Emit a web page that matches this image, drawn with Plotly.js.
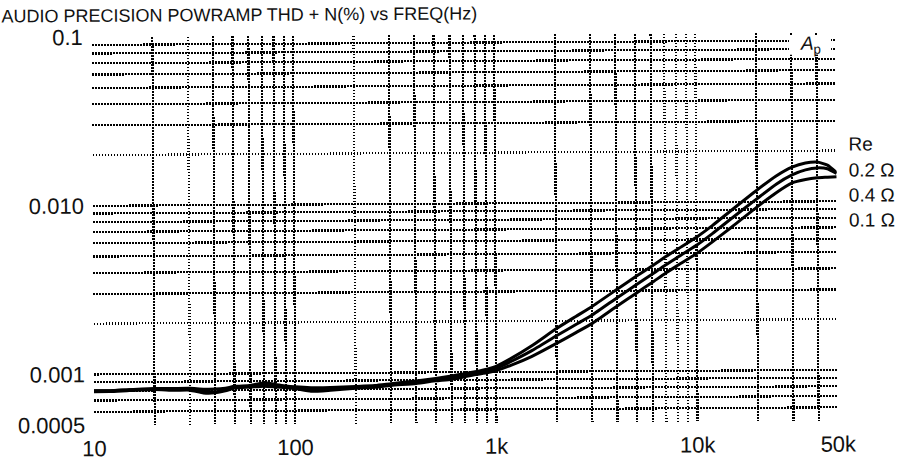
<!DOCTYPE html>
<html>
<head>
<meta charset="utf-8">
<script src="https://cdn.plot.ly/plotly-3.0.1.min.js"></script>
<style>
  html, body { margin: 0; padding: 0; background: #fff; overflow: hidden; }
  #chart { width: 904px; height: 461px; transform: rotate(-0.35deg); transform-origin: 452px 230px; }
</style>
</head>
<body>
<div id="chart"></div>
<script>
// ---- data ----
const freq = [10, 12, 15, 20, 25, 30, 35, 40, 45, 50, 60, 70, 80, 90, 100, 120, 150, 200, 250, 300, 400, 500, 600, 700, 800, 900, 1000,
  1200, 1500, 2000, 2500, 3000, 4000, 5000, 6000, 7000, 8000, 10000, 12000, 15000, 20000, 25000, 30000, 35000, 40000, 45000, 50000];

const thd_02 = [0.00080, 0.00080, 0.00081, 0.00082, 0.00082, 0.00082, 0.00081, 0.00081, 0.00082, 0.00084, 0.00085, 0.00088, 0.00086, 0.00084, 0.00083, 0.00082, 0.00082, 0.00083, 0.00084, 0.00086, 0.00089, 0.00092, 0.00095, 0.00098, 0.00101, 0.00104, 0.00108,
  0.00121, 0.00142, 0.00180, 0.00212, 0.00242, 0.00305, 0.00365, 0.00420, 0.00475, 0.00525, 0.00620, 0.00725, 0.00895, 0.01170, 0.01420, 0.01600, 0.01690, 0.01710, 0.01640, 0.01480];

const thd_04 = [0.00080, 0.00080, 0.00081, 0.00081, 0.00081, 0.00081, 0.00079, 0.00078, 0.00080, 0.00083, 0.00084, 0.00085, 0.00084, 0.00083, 0.00082, 0.00079, 0.00080, 0.00082, 0.00083, 0.00085, 0.00088, 0.00090, 0.00093, 0.00096, 0.00099, 0.00102, 0.00105,
  0.00116, 0.00133, 0.00163, 0.00190, 0.00215, 0.00272, 0.00325, 0.00375, 0.00425, 0.00470, 0.00555, 0.00650, 0.00800, 0.01040, 0.01270, 0.01440, 0.01540, 0.01580, 0.01560, 0.01460];

const thd_01 = [0.00079, 0.00079, 0.00080, 0.00081, 0.00080, 0.00080, 0.00077, 0.00077, 0.00079, 0.00082, 0.00083, 0.00084, 0.00083, 0.00082, 0.00081, 0.00078, 0.00079, 0.00081, 0.00082, 0.00084, 0.00086, 0.00089, 0.00091, 0.00094, 0.00097, 0.00099, 0.00102,
  0.00110, 0.00123, 0.00147, 0.00170, 0.00192, 0.00243, 0.00290, 0.00335, 0.00380, 0.00420, 0.00495, 0.00580, 0.00710, 0.00930, 0.01130, 0.01290, 0.01350, 0.01380, 0.01390, 0.01400];

const seriesNames = ['0.2 Ω', '0.4 Ω', '0.1 Ω'];

const xTickVals = [10, 20, 30, 40, 50, 60, 70, 80, 90, 100, 200, 300, 400, 500, 600, 700, 800, 900, 1000,
  2000, 3000, 4000, 5000, 6000, 7000, 8000, 9000, 10000, 20000, 30000, 40000, 50000];
const xTickText = ['10', '', '', '', '', '', '', '', '', '100', '', '', '', '', '', '', '', '', '1k',
  '', '', '', '', '', '', '', '', '10k', '', '', '', '50k'];

const yTickVals = [0.0005, 0.0006, 0.0007, 0.0008, 0.0009, 0.001, 0.002, 0.003, 0.004, 0.005, 0.006, 0.007, 0.008, 0.009, 0.01,
  0.02, 0.03, 0.04, 0.05, 0.06, 0.07, 0.08, 0.09, 0.1];
const yTickText = ['0.0005', '', '', '', '', '0.001', '', '', '', '', '', '', '', '', '0.010',
  '', '', '', '', '', '', '', '', '0.1'];

const titleText = 'AUDIO PRECISION POWRAMP THD + N(%) vs FREQ(Hz)';
const legendHeader = 'Re';

// ---- chart ----
const FONT = '"Liberation Sans", Arial, Helvetica, sans-serif';
const INK = '#000000';

const lineStyle = { color: INK, width: 3, shape: 'spline', smoothing: 0.5 };
const traces = [thd_02, thd_04, thd_01].map((vals, i) => ({
  type: 'scatter', mode: 'lines', name: seriesNames[i],
  x: freq, y: vals, line: lineStyle, hoverinfo: 'x+y+name'
}));

const gridStyle = {
  showgrid: true, gridcolor: INK, gridwidth: 2.2, griddash: '1.8px,1.2px',
  showline: false, zeroline: false, ticks: '', tickmode: 'array',
  tickfont: { family: FONT, size: 22, color: '#111' }
};

const layout = {
  width: 904, height: 461,
  margin: { l: 93, r: 67, t: 35, b: 38 },
  paper_bgcolor: '#ffffff', plot_bgcolor: '#ffffff',
  showlegend: false,
  font: { family: FONT, color: '#111' },
  title: {
    text: titleText, font: { family: FONT, size: 18, color: '#111' },
    xref: 'container', yref: 'container', x: 0.003, xanchor: 'left', y: 0.971, yanchor: 'middle'
  },
  xaxis: Object.assign({}, gridStyle, {
    type: 'log', range: [Math.log10(10), Math.log10(50000)],
    tickvals: xTickVals, ticktext: xTickText, ticklabelstandoff: 8
  }),
  yaxis: Object.assign({}, gridStyle, {
    type: 'log', range: [Math.log10(0.0005), Math.log10(0.1)],
    tickvals: yTickVals, ticktext: yTickText, ticklabelstandoff: 8
  }),
  shapes: [
    { type: 'rect', xref: 'paper', yref: 'paper', x0: 0.937, x1: 0.9935, y0: 0.944, y1: 0.994,
      fillcolor: '#ffffff', line: { width: 0 }, layer: 'above' }
  ],
  annotations: [
    { xref: 'paper', yref: 'paper', x: 0.966, y: 0.969, xanchor: 'center', yanchor: 'middle',
      text: '<i>A</i><sub>p</sub>', showarrow: false, font: { family: FONT, size: 19, color: '#111' } },
    { xref: 'paper', yref: 'paper', x: 1.0134, y: 0.7126, xanchor: 'left', yanchor: 'middle',
      text: legendHeader, showarrow: false, font: { family: FONT, size: 19, color: '#111' } },
    { xref: 'paper', yref: 'paper', x: 1.0134, y: 0.6456, xanchor: 'left', yanchor: 'middle',
      text: seriesNames[0], showarrow: false, font: { family: FONT, size: 19, color: '#111' } },
    { xref: 'paper', yref: 'paper', x: 1.0134, y: 0.5799, xanchor: 'left', yanchor: 'middle',
      text: seriesNames[1], showarrow: false, font: { family: FONT, size: 19, color: '#111' } },
    { xref: 'paper', yref: 'paper', x: 1.0134, y: 0.5168, xanchor: 'left', yanchor: 'middle',
      text: seriesNames[2], showarrow: false, font: { family: FONT, size: 19, color: '#111' } }
  ]
};

Plotly.newPlot('chart', traces, layout, { displayModeBar: false, staticPlot: true });
</script>
</body>
</html>
